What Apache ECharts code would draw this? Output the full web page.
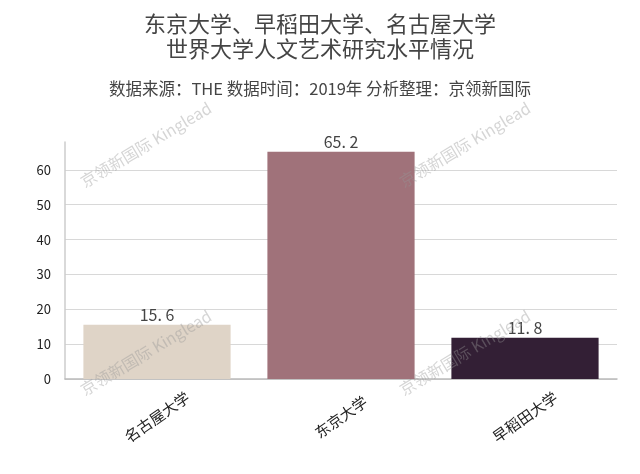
<!DOCTYPE html>
<html><head><meta charset="utf-8">
<script src="https://cdn.jsdelivr.net/npm/echarts@6/dist/echarts.min.js"></script>
<style>html,body{margin:0;padding:0;background:#fff}#c{width:640px;height:474px}</style>
</head><body><div id="c"></div>
<script>
const categories = ['名古屋大学', '东京大学', '早稻田大学'];
const values = [15.6, 65.2, 11.8];
const barColors = ['#dfd4c7', '#a0727a', '#331f35'];
const titleLines = ['东京大学、早稻田大学、名古屋大学', '世界大学人文艺术研究水平情况'];
const subtitle = '数据来源：THE 数据时间：2019年 分析整理：京领新国际';
const watermark = '京领新国际 Kinglead';

const font = '"Noto Sans CJK SC", "Noto Sans", sans-serif';
const chart = echarts.init(document.getElementById('c'));
const wm = (x, y) => ({
  type: 'text', x: x, y: y, rotation: Math.PI / 180 * 31, silent: true, z: 100,
  style: { text: watermark, x: 0, y: 0, verticalAlign: 'bottom', fill: 'rgba(150,150,150,0.4)', font: '16px ' + font }
});
chart.setOption({
  animation: false,
  title: [
    { text: titleLines.join('\n'), left: 'center', top: 6,
      textStyle: { fontFamily: font, fontSize: 22, fontWeight: 'normal', color: '#444', lineHeight: 25 } },
    { text: subtitle, left: 'center', top: 75,
      textStyle: { fontFamily: font, fontSize: 16.5, fontWeight: 'normal', color: '#444' } }
  ],
  grid: { left: 65, right: 23, top: 142, bottom: 95 },
  xAxis: {
    type: 'category', data: categories,
    axisLine: { lineStyle: { color: '#bbb', width: 1.5 } },
    axisTick: { show: false },
    axisLabel: { rotate: 35, align: 'center', verticalAlign: 'middle', color: '#222', fontSize: 15, fontFamily: font, margin: 38 }
  },
  yAxis: {
    type: 'value', min: 0, max: 68, interval: 10,
    axisLine: { show: true, lineStyle: { color: '#ccc', width: 1.5 } },
    axisTick: { show: false },
    axisLabel: { showMaxLabel: false, color: '#222', fontSize: 13, fontFamily: font, margin: 14 },
    splitLine: { showMaxLine: false, lineStyle: { color: '#d8d8d8', width: 1.2 } }
  },
  series: [{
    type: 'bar', barWidth: '80%',
    data: values.map((v, i) => ({ value: v, itemStyle: { color: barColors[i] } })),
    label: { show: true, position: 'top', distance: 2, color: '#444', fontSize: 16, fontFamily: font,
      formatter: p => String(p.value).replace('.', '. ') }
  }],
  graphic: [wm(86, 190), wm(405, 190), wm(86, 398), wm(405, 398)]
});
</script></body></html>
